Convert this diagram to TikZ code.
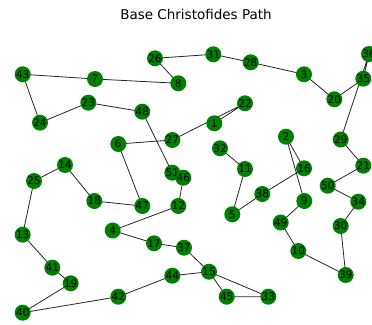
\documentclass[tikz,border=0pt]{standalone}
\usepackage{fontspec}
\setmainfont{DejaVu Sans}
\definecolor{vgreen}{RGB}{0,128,0}
\pgfdeclarelayer{bg}
\pgfsetlayers{bg,main}
\begin{document}
\begin{tikzpicture}[x=1pt,y=-1pt,
  v/.style={circle,fill=vgreen,minimum size=16pt,inner sep=0pt,font=\fontsize{10.5}{10.5}\selectfont},
  e/.style={draw=black!85,line width=0.8pt},
  ttl/.style={font=\fontsize{13.5}{13.5}\selectfont,inner sep=0pt}]
\clip (0,0) rectangle (372,324);
\useasboundingbox (0,0) rectangle (372,324);
\node[ttl] (title) at (196,14) {Base Christofides Path};
\node[v] (n26) at (155,58.3) {26};
\node[v] (n43) at (22.7,74.3) {43};
\node[v] (n7) at (95,79) {7};
\node[v] (n8) at (178.3,83.3) {8};
\node[v] (n23) at (88.3,102.7) {23};
\node[v] (n48) at (142.3,111.7) {48};
\node[v] (n24) at (40,122.7) {24};
\node[v] (n27) at (172.3,140) {27};
\node[v] (n31) at (213.3,54.3) {31};
\node[v] (n28) at (250.7,62.3) {28};
\node[v] (n3) at (304,74.3) {3};
\node[v] (n20) at (334.3,99.3) {20};
\node[v] (n36) at (369,54) {36};
\node[v] (n35) at (363.3,78.7) {35};
\node[v] (n22) at (245,103.3) {22};
\node[v] (n1) at (214.3,123.3) {1};
\node[v] (n2) at (286,136.7) {2};
\node[v] (n29) at (340.7,139.5) {29};
\node[v] (n6) at (118.3,144) {6};
\node[v] (n14) at (65,165) {14};
\node[v] (n25) at (34,181) {25};
\node[v] (n51) at (172.3,172.7) {51};
\node[v] (n46) at (183.3,177.7) {46};
\node[v] (n18) at (94.3,201) {18};
\node[v] (n47) at (142.3,206) {47};
\node[v] (n12) at (178.3,206) {12};
\node[v] (n13) at (22.7,234.7) {13};
\node[v] (n4) at (112.7,230.5) {4};
\node[v] (n32) at (220,148.3) {32};
\node[v] (n11) at (245,169) {11};
\node[v] (n16) at (304,168.3) {16};
\node[v] (n21) at (363.3,165.7) {21};
\node[v] (n50) at (327.7,185.7) {50};
\node[v] (n34) at (358.3,201.7) {34};
\node[v] (n38) at (262.3,194) {38};
\node[v] (n9) at (304.3,201) {9};
\node[v] (n5) at (232.3,214.3) {5};
\node[v] (n49) at (280.7,222.5) {49};
\node[v] (n30) at (340.7,226) {30};
\node[v] (n17) at (154,243.3) {17};
\node[v] (n37) at (184,247.7) {37};
\node[v] (n41) at (52.3,267.7) {41};
\node[v] (n19) at (70.7,283.3) {19};
\node[v] (n44) at (172.3,275.7) {44};
\node[v] (n42) at (118.3,296.7) {42};
\node[v] (n40) at (22.7,312.7) {40};
\node[v] (n15) at (209,271.7) {15};
\node[v] (n45) at (226.7,296.7) {45};
\node[v] (n33) at (268.3,296.7) {33};
\node[v] (n10) at (298.3,251) {10};
\node[v] (n39) at (345.7,275) {39};
\begin{pgfonlayer}{bg}
\draw[e] (n1.center) -- (n22.center) -- (n27.center) -- (n6.center) -- (n47.center) -- (n18.center) -- (n14.center) -- (n25.center) -- (n13.center) -- (n41.center) -- (n19.center) -- (n40.center) -- (n42.center) -- (n44.center) -- (n15.center) -- (n45.center) -- (n33.center) -- (n15.center) -- (n37.center) -- (n17.center) -- (n4.center) -- (n12.center) -- (n46.center) -- (n51.center) -- (n48.center) -- (n23.center) -- (n24.center) -- (n43.center) -- (n7.center) -- (n8.center) -- (n26.center) -- (n31.center) -- (n28.center) -- (n3.center) -- (n20.center) -- (n35.center) -- (n36.center) -- (n29.center) -- (n21.center) -- (n50.center) -- (n34.center) -- (n30.center) -- (n39.center) -- (n10.center) -- (n49.center) -- (n9.center) -- (n2.center) -- (n16.center) -- (n38.center) -- (n5.center) -- (n11.center) -- (n32.center);
\end{pgfonlayer}
\end{tikzpicture}
\end{document}
